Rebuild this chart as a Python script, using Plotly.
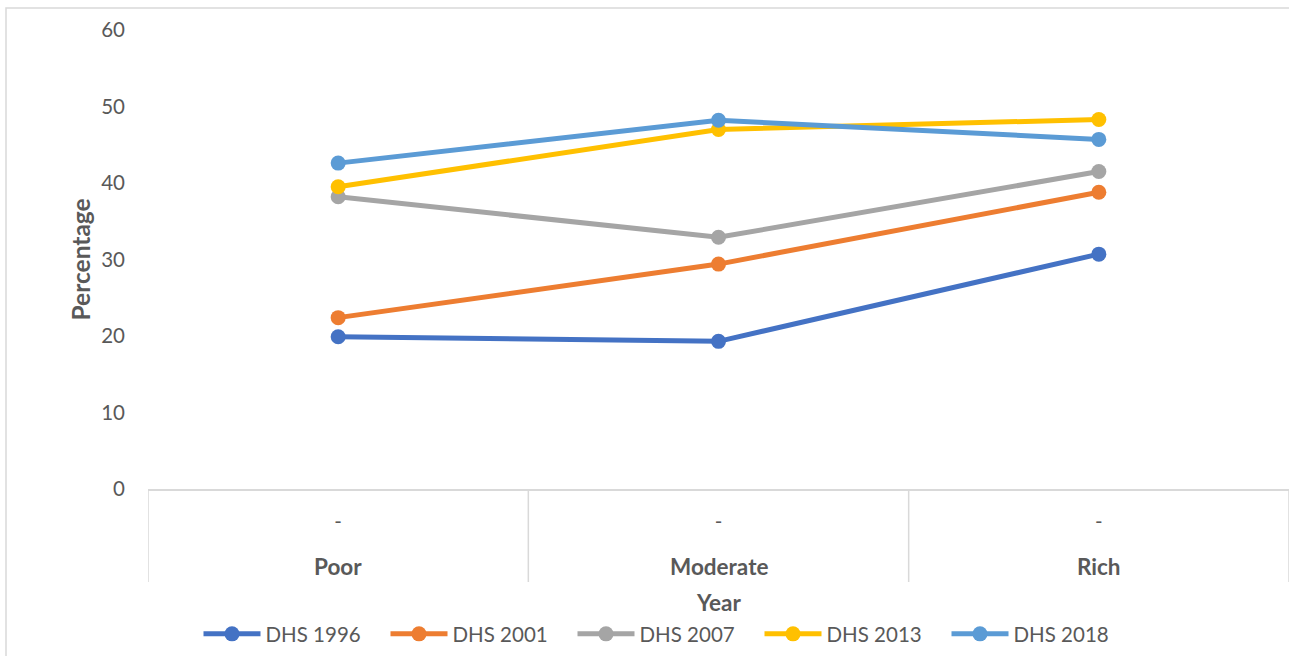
import plotly.graph_objects as go

# Wealth groups along the category axis
groups = ["Poor", "Moderate", "Rich"]
group_marks = ["-", "-", "-"]

# Survey rounds and their percentages per wealth group
series_names = ["DHS 1996", "DHS 2001", "DHS 2007", "DHS 2013", "DHS 2018"]
dhs_1996 = [19.9, 19.3, 30.7]
dhs_2001 = [22.4, 29.4, 38.8]
dhs_2007 = [38.2, 32.9, 41.5]
dhs_2013 = [39.5, 47.0, 48.3]
dhs_2018 = [42.6, 48.2, 45.7]

y_ticks = [0, 10, 20, 30, 40, 50, 60]

colors = ["#4472C4", "#ED7D31", "#A5A5A5", "#FFC000", "#5B9BD5"]
all_series = [dhs_1996, dhs_2001, dhs_2007, dhs_2013, dhs_2018]

W, H = 1289, 656
ML, MR, MT, MB = 148, 0, 30, 167
plot_h = H - MT - MB
plot_w = W - ML - MR
FONT = "Lato, 'Open Sans', sans-serif"
TXT = "#595959"
GRID = "#D9D9D9"

fig = go.Figure()
for name, vals, col in zip(series_names, all_series, colors):
    fig.add_trace(go.Scatter(
        x=groups, y=vals, name=name, mode="lines+markers",
        line=dict(color=col, width=5),
        marker=dict(color=col, size=15, line=dict(width=0)),
    ))

shapes = []
# dividers between wealth groups under the axis
for i in range(len(groups) + 1):
    shapes.append(dict(
        type="line", xref="x", yref="paper",
        x0=i - 0.5, x1=i - 0.5, y0=0, y1=-93 / plot_h,
        line=dict(color=GRID, width=1.5), layer="below",
    ))
# outer chart frame
shapes.append(dict(
    type="rect", xref="paper", yref="paper",
    x0=(6 - ML) / plot_w, x1=1.05, y0=-1.0, y1=(plot_h + MT - 8) / plot_h,
    line=dict(color=GRID, width=1.5), fillcolor="rgba(0,0,0,0)", layer="below",
))

annotations = []
for g in groups:
    annotations.append(dict(
        x=g, y=0, xref="x", yref="paper", text=f"<b>{g}</b>",
        showarrow=False, yanchor="middle", yshift=-77,
        font=dict(family=FONT, size=22.5, color=TXT),
    ))
annotations.append(dict(
    x=0.5, y=0, xref="paper", yref="paper", text="<b>Year</b>",
    showarrow=False, yanchor="middle", yshift=-113,
    font=dict(family=FONT, size=22.5, color=TXT),
))
annotations.append(dict(
    x=0, y=0.5, xref="paper", yref="paper", text="<b>Percentage</b>",
    showarrow=False, textangle=-90, xanchor="center", yanchor="middle",
    xshift=-68, font=dict(family=FONT, size=24.5, color=TXT),
))

fig.update_layout(
    width=W, height=H,
    margin=dict(l=ML, r=MR, t=MT, b=MB),
    paper_bgcolor="white", plot_bgcolor="white",
    font=dict(family=FONT, size=20.5, color=TXT),
    showlegend=True,
    legend=dict(
        orientation="h", xref="paper", x=(666 - ML) / plot_w, xanchor="center",
        yref="paper", y=-(634 - (MT + plot_h)) / plot_h, yanchor="middle",
        font=dict(family=FONT, size=20.5, color=TXT),
        itemwidth=57, entrywidth=115, entrywidthmode="pixels",
        bgcolor="rgba(0,0,0,0)",
    ),
    shapes=shapes,
    annotations=annotations,
)
fig.update_xaxes(
    type="category", categoryorder="array", categoryarray=groups,
    range=[-0.5, len(groups) - 0.5],
    tickmode="array", tickvals=groups, ticktext=group_marks,
    showline=True, linecolor=GRID, linewidth=1.5,
    showgrid=False, zeroline=False, ticks="",
    ticklabelstandoff=14,
    tickfont=dict(family=FONT, size=20.5, color=TXT),
)
fig.update_yaxes(
    range=[0, 60], tickmode="array", tickvals=y_ticks,
    showgrid=False, zeroline=False, showline=False, ticks="",
    ticklabelstandoff=22,
    tickfont=dict(family=FONT, size=20.5, color=TXT),
)

fig.write_html("out.html")
